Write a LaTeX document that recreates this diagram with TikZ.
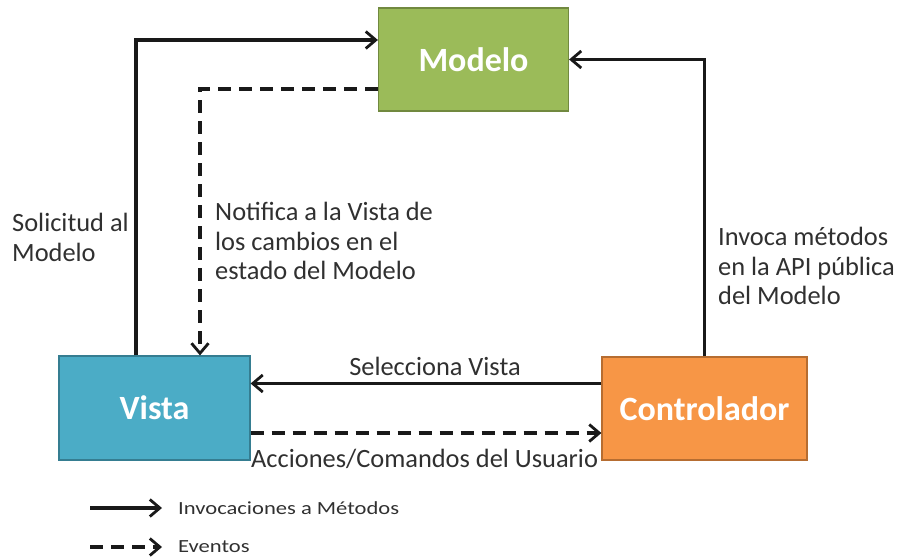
\documentclass[tikz,border=0pt]{standalone}
\usepackage{fontspec}
\setmainfont{Carlito}
\usetikzlibrary{arrows.meta}
\definecolor{txt}{HTML}{303030}
\definecolor{gfill}{HTML}{9BBB59}
\definecolor{gdraw}{HTML}{71893F}
\definecolor{bfill}{HTML}{4BACC6}
\definecolor{bdraw}{HTML}{357D91}
\definecolor{ofill}{HTML}{F79646}
\definecolor{odraw}{HTML}{B66D31}
\tikzset{
  box/.style={draw, line width=1.2pt, minimum height=103pt, text=white, font=\fontsize{34}{40}\selectfont\bfseries, inner sep=0pt},
  lbl/.style={text=txt, font=\fontsize{26.4}{29.5}\selectfont, align=left, inner sep=0pt},
  leg/.style={text=txt, font=\fontsize{18.5}{22}\selectfont, inner sep=0pt},
  inv/.style={line width=3.2pt, draw=black!90, -{Straight Barb[length=10pt,width=17pt,line width=2.8pt]}},
  evt/.style={inv, dash pattern=on 13pt off 8pt}
}
\begin{document}
\begin{tikzpicture}[x=1pt,y=-1pt]
\useasboundingbox (0,0) rectangle (897,558);
\node[box, fill=gfill, draw=gdraw, minimum width=190pt] (modelo) at (473.5,59.5) {Modelo};
\node[box, fill=bfill, draw=bdraw, minimum width=191pt, minimum height=104pt] (vista) at (154.5,408) {Vista};
\node[box, fill=ofill, draw=odraw, minimum width=205pt] (ctrl) at (704.5,408.5) {Controlador};

\draw[inv] ([xshift=-18.5pt]vista.north) |- ([yshift=19.5pt]modelo.west);
\draw[evt] ([yshift=-29.5pt]modelo.west) -| ([xshift=45.5pt]vista.north);
\draw[inv] (ctrl.north) |- (modelo.east);
\draw[inv] ([yshift=25pt]ctrl.west) -- ([yshift=25pt]ctrl.west -| vista.east);
\draw[evt] ([yshift=-25pt]vista.east) -- ([yshift=-25pt]vista.east -| ctrl.west);

\node[lbl, anchor=north west] (sol) at (12,213) {Solicitud al\\Modelo};
\node[lbl, anchor=north west] (notif) at (215,202) {Notifica a la Vista de\\los cambios en el\\estado del Modelo};
\node[lbl, anchor=north west] (invoca) at (718,227) {Invoca métodos\\en la API pública\\del Modelo};
\node[lbl, anchor=base] (sel) at (435,375) {Selecciona Vista};
\node[lbl, anchor=base west] (acc) at (251,467) {Acciones/Comandos del Usuario};

\coordinate (l1a) at (90,508);
\coordinate (l1b) at (162,508);
\coordinate (l2a) at (90,547);
\coordinate (l2b) at (162,547);
\draw[inv] (l1a) -- (l1b);
\draw[evt] (l2a) -- (l2b);
\node[leg, anchor=west] (legi) at (178,508) {\scalebox{1.22}[1]{Invocaciones a Métodos}};
\node[leg, anchor=west] (lege) at (178,547) {\scalebox{1.22}[1]{Eventos}};
\end{tikzpicture}
\end{document}
